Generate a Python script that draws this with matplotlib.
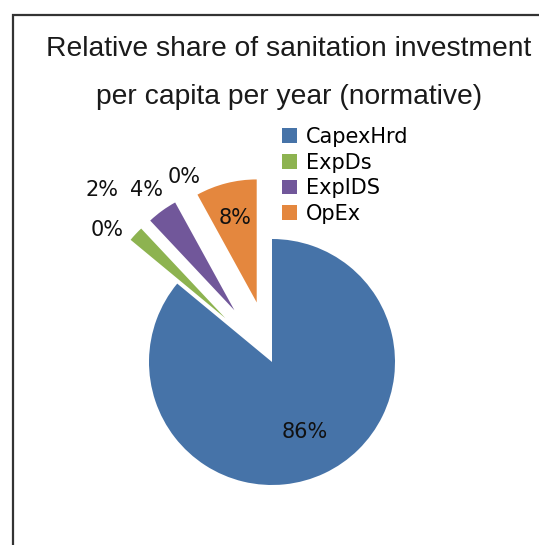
'''
Relative share of sanitation investment per capita per year (normative) - pie chart
'''

## import packages
import numpy as np
import matplotlib.pyplot as plt
from matplotlib.patches import Rectangle

## data (two unnamed categories are zero and not in the legend)
categories = ['CapexHrd', '', 'ExpDs', 'ExpIDS', '', 'OpEx']
shares = [86, 0, 2, 4, 0, 8]

## style
colors = ['#4673A8', 'none', '#8DB350', '#71579A', 'none', '#E4873E']
explode = [0, 0.52, 0.52, 0.52, 0.52, 0.5]
lab_dist = [0.63, 1.2, 1.45, 1.21, 1.145, 0.71]   # label distance from wedge centre
lab_turn = [0, 1, -2.1, 0, -3.4, 0]                # label angle nudge (degrees)

W, H = 539, 545
cx, cy, r = 272, 362, 123   # pie centre and radius in pixels

fig = plt.figure(figsize=(W / 100, H / 100), dpi=100)
ax = fig.add_axes([0, 0, 1, 1])

wedges, _ = ax.pie(shares, explode=explode, startangle=90, counterclock=False,
                   colors=colors, wedgeprops=dict(linewidth=0))
ax.set_xlim(-cx / r, (W - cx) / r)
ax.set_ylim(-(H - cy) / r, cy / r)
ax.set_aspect('auto')
ax.axis('off')

## percentage labels
for i, w in enumerate(wedges):
    mid = np.deg2rad((w.theta1 + w.theta2) / 2 + lab_turn[i])
    d = explode[i] + lab_dist[i]
    ax.text(d * np.cos(mid), d * np.sin(mid), '%.0f%%' % shares[i],
            ha='center', va='center', fontsize=15, color='#111111',
            family='DejaVu Sans')

## legend (named categories only)
hnd = [w for w, c in zip(wedges, categories) if c]
lab = [c for c in categories if c]
ax.legend(hnd, lab, loc='upper left', bbox_to_anchor=(282 / W, 1 - 127 / H),
          bbox_transform=fig.transFigure, frameon=False, borderpad=0,
          borderaxespad=0, labelspacing=0.27, handlelength=0.7,
          handleheight=0.7, handletextpad=0.45,
          prop=dict(family='DejaVu Sans', size=15))

## title
fig.text(289 / W, 1 - 73 / H,
         'Relative share of sanitation investment\nper capita per year (normative)',
         ha='center', va='center', fontsize=20.3, family='Liberation Sans',
         color='#1a1a1a', linespacing=2.15)

## chart frame (cut by the image edge)
fig.patches.append(Rectangle((13 / W, -0.1), 1.2, 1 - 15 / H + 0.1,
                             transform=fig.transFigure, fill=False,
                             edgecolor='#333333', linewidth=1.6))

fig.savefig('out.png', dpi=100)
